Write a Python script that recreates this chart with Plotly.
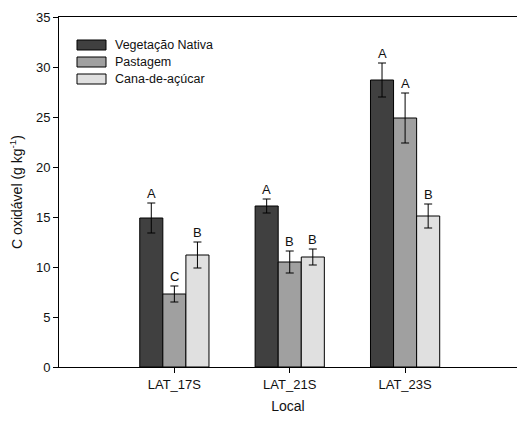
import plotly.graph_objects as go

locais = ["LAT_17S", "LAT_21S", "LAT_23S"]
series = ["Vegetação Nativa", "Pastagem", "Cana-de-açúcar"]
vn = [14.9, 16.1, 28.7]
pas = [7.3, 10.5, 24.9]
cana = [11.2, 11.0, 15.1]
vn_err = [1.5, 0.7, 1.7]
pas_err = [0.8, 1.1, 2.5]
cana_err = [1.3, 0.8, 1.2]
vn_let = ["A", "A", "A"]
pas_let = ["C", "B", "A"]
cana_let = ["B", "B", "B"]

colors = ["#404040", "#a0a0a0", "#e0e0e0"]
vals = [vn, pas, cana]
errs = [vn_err, pas_err, cana_err]
lets = [vn_let, pas_let, cana_let]
FONT = "Liberation Sans, Arial"

fig = go.Figure()
xs = list(range(len(locais)))
bw = 0.2
offsets = [-bw, 0, bw]
for i, name in enumerate(series):
    fig.add_trace(go.Bar(
        x=xs, y=vals[i], name=name, width=bw, offset=offsets[i] - bw / 2,
        marker=dict(color=colors[i], line=dict(color="#000000", width=1)),
        error_y=dict(type="data", array=errs[i], color="#000000", thickness=1, width=4),
        showlegend=False,
    ))
    for j in xs:
        fig.add_annotation(x=j + offsets[i], y=vals[i][j] + errs[i][j], text=lets[i][j],
                           showarrow=False, yanchor="bottom", yshift=0,
                           font=dict(size=13, color="#111111", family=FONT))

# manual legend
leg_x0, leg_x1 = 77, 106
leg_y = [40, 57, 74]
W, H = 517, 426
ml, mr, mt, mb = 59, 0, 17, 59
pw, ph = W - ml - mr, H - mt - mb
for i, name in enumerate(series):
    x0 = (leg_x0 - ml) / pw
    x1 = (leg_x1 - ml) / pw
    y0 = 1 - (leg_y[i] - mt) / ph
    y1 = 1 - (leg_y[i] + 10 - mt) / ph
    fig.add_shape(type="rect", xref="paper", yref="paper", x0=x0, x1=x1, y0=y1, y1=y0,
                  fillcolor=colors[i], line=dict(color="#000000", width=1))
    fig.add_annotation(xref="paper", yref="paper", x=(113 - ml) / pw, y=1 - (leg_y[i] + 5 - mt) / ph,
                       text=name, showarrow=False, xanchor="left", yanchor="middle",
                       font=dict(size=12.5, color="#111111", family=FONT))

fig.update_layout(
    width=W, height=H,
    margin=dict(l=ml, r=mr, t=mt, b=mb),
    plot_bgcolor="white", paper_bgcolor="white",
    font=dict(family=FONT, size=13, color="#111111"),
    xaxis=dict(
        range=[-1.0, 2.97], tickvals=xs, ticktext=locais,
        showline=True, linecolor="#000000", linewidth=1, mirror=True,
        ticks="outside", ticklen=5, tickcolor="#000000", showgrid=False, zeroline=False,
        tickfont=dict(size=13),
        title=dict(text="Local", font=dict(size=14), standoff=10),
    ),
    yaxis=dict(
        range=[0, 35], tickvals=[0, 5, 10, 15, 20, 25, 30, 35],
        showline=True, linecolor="#000000", linewidth=1,
        ticks="outside", ticklen=5, tickcolor="#000000", showgrid=False, zeroline=False,
        tickfont=dict(size=13),
        title=dict(text="C oxidável (g kg<sup>-1</sup>)", font=dict(size=14), standoff=10),
    ),
)

fig.write_html("out.html")
